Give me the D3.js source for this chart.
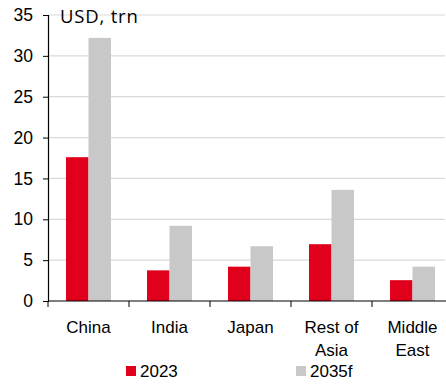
<!DOCTYPE html>
<html>
<head>
<meta charset="utf-8">
<script src="https://cdn.jsdelivr.net/npm/d3@7"></script>
<style>
  body { margin: 0; background: #fff; }
  svg text { font-family: "Liberation Sans Narrow", "Arial Narrow", "Liberation Sans", Arial, sans-serif; fill: #000; }
</style>
</head>
<body>
<svg id="chart" width="446" height="384"></svg>
<script>
// regions and values (USD trn)
const regions = [["China"], ["India"], ["Japan"], ["Rest of", "Asia"], ["Middle", "East"]];
const series = ["2023", "2035f"];
const values2023 = [17.6, 3.75, 4.2, 6.95, 2.55];
const values2035 = [32.2, 9.2, 6.7, 13.6, 4.2];
const yTicks = [0, 5, 10, 15, 20, 25, 30, 35];
const colors = ["#e0001b", "#c8c8c8"];

const svg = d3.select("#chart");
const keys = regions.map(r => r.join(" "));

const x = d3.scaleBand().domain(keys).range([48, 453]);
const x1 = d3.scaleBand().domain(series).range([0, x.bandwidth()]).paddingOuter(0.8);
const y = d3.scaleLinear().domain([0, 35]).range([301, 15]);

// gridlines
svg.append("g")
  .selectAll("line")
  .data(yTicks.filter(d => d > 0))
  .enter()
  .append("line")
  .attr("x1", 48).attr("x2", 445)
  .attr("y1", d => y(d)).attr("y2", d => y(d))
  .attr("stroke", "#d9d9d9")
  .attr("stroke-width", 1.2);

// bars
const data = keys.map((k, i) => ({ key: k, vals: [values2023[i], values2035[i]] }));
const groups = svg.append("g")
  .selectAll("g")
  .data(data)
  .enter()
  .append("g")
  .attr("transform", d => `translate(${x(d.key)},0)`);

groups.selectAll("rect")
  .data(d => d.vals.map((v, j) => ({ s: series[j], v: v, j: j })))
  .enter()
  .append("rect")
  .attr("x", d => x1(d.s))
  .attr("width", x1.bandwidth())
  .attr("y", d => y(d.v))
  .attr("height", d => y(0) - y(d.v))
  .attr("fill", d => colors[d.j]);

// y axis
const yAxis = svg.append("g")
  .attr("transform", "translate(48,0)")
  .call(d3.axisLeft(y).tickValues(yTicks).tickSize(5).tickPadding(10));
yAxis.select(".domain").attr("stroke", "#000").attr("stroke-width", 1.2);
yAxis.selectAll(".tick line").attr("stroke", "#000");
yAxis.selectAll("text").attr("font-size", 17.5).attr("font-family", null);

// x axis
const xAxis = svg.append("g")
  .attr("transform", "translate(0,301)")
  .call(d3.axisBottom(x).tickValues([]).tickSizeOuter(0));
xAxis.select(".domain").attr("stroke", "#000").attr("stroke-width", 1.2).attr("d", "M48,0H446");
xAxis.selectAll(".sep")
  .data(d3.range(keys.length))
  .enter()
  .append("line")
  .attr("x1", i => x.range()[0] + i * x.step())
  .attr("x2", i => x.range()[0] + i * x.step())
  .attr("y1", 0).attr("y2", 6)
  .attr("stroke", "#000");

// category labels
svg.append("g")
  .selectAll("text")
  .data(regions)
  .enter()
  .append("text")
  .attr("text-anchor", "middle")
  .attr("font-size", 17)
  .attr("x", (d, i) => x(keys[i]) + x.bandwidth() / 2)
  .attr("y", 333)
  .selectAll("tspan")
  .data(d => d)
  .enter()
  .append("tspan")
  .attr("x", function () { return d3.select(this.parentNode).attr("x"); })
  .attr("dy", (d, i) => i === 0 ? 0 : 23)
  .text(d => d);

// unit label
svg.append("text")
  .attr("x", 60).attr("y", 23)
  .attr("font-size", 18.5)
  .attr("letter-spacing", 0.8)
  .style("font-family", "'Open Sans', Lato, sans-serif")
  .text("USD, trn");

// legend
const legendX = [126, 296];
const legend = svg.append("g")
  .selectAll("g")
  .data(series)
  .enter()
  .append("g")
  .attr("transform", (d, i) => `translate(${legendX[i]},366)`);
legend.append("rect").attr("width", 10).attr("height", 10).attr("fill", (d, i) => colors[i]);
legend.append("text").attr("x", 14).attr("y", 11).attr("font-size", 17).text(d => d);
</script>
</body>
</html>
